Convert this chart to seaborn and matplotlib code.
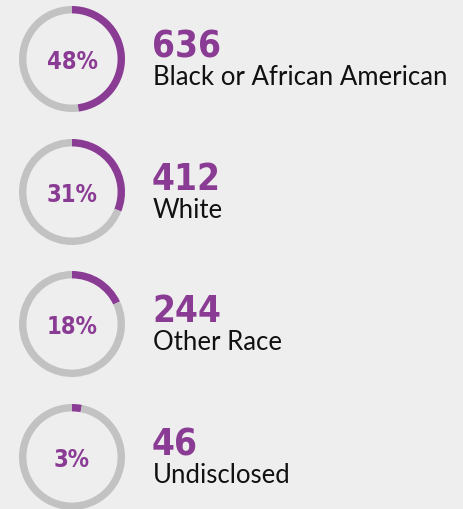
import seaborn as sns
import matplotlib.pyplot as plt

# data
percents = [48, 31, 18, 3]
counts = [636, 412, 244, 46]
labels = ["Black or African American", "White", "Other Race", "Undisclosed"]

purple = "#8a3b94"
gray = "#c2c2c2"
bg = "#eeeeee"

sns.set_theme(style="white")
plt.rcParams["font.family"] = ["Lato", "DejaVu Sans"]

W, H = 464, 510
fig = plt.figure(figsize=(W / 100, H / 100), dpi=100, facecolor=bg)

centers_y = [60, 193, 325, 458]
cx = 72
r = 53
num_font = ["DejaVu Sans", "Roboto"]

for i, (p, n, lab) in enumerate(zip(percents, counts, labels)):
    cy = centers_y[i]
    ax = fig.add_axes([(cx - r) / W, 1 - (cy + r) / H, 2 * r / W, 2 * r / H])
    ax.pie([p, 100 - p], colors=[purple, gray], startangle=90, counterclock=False,
           radius=1, wedgeprops=dict(width=0.14, linewidth=0))
    ax.set_xlim(-1, 1)
    ax.set_ylim(-1, 1)
    ax.set_aspect("equal")
    ax.axis("off")
    ax.text(0, -0.04, f"{p}%", ha="center", va="center", color=purple, fontsize=17,
            fontweight="bold", fontstretch="condensed", family=num_font)

    fig.text(152 / W, 1 - (cy - 3) / H, str(n), ha="left", va="baseline", color=purple,
             fontsize=26.5, fontweight="bold", fontstretch="condensed", family=num_font)
    fig.text(153 / W, 1 - (cy + 25) / H, lab, ha="left", va="baseline", color="#111111",
             fontsize=18.5)

fig.savefig("out.png", dpi=100, facecolor=bg)
